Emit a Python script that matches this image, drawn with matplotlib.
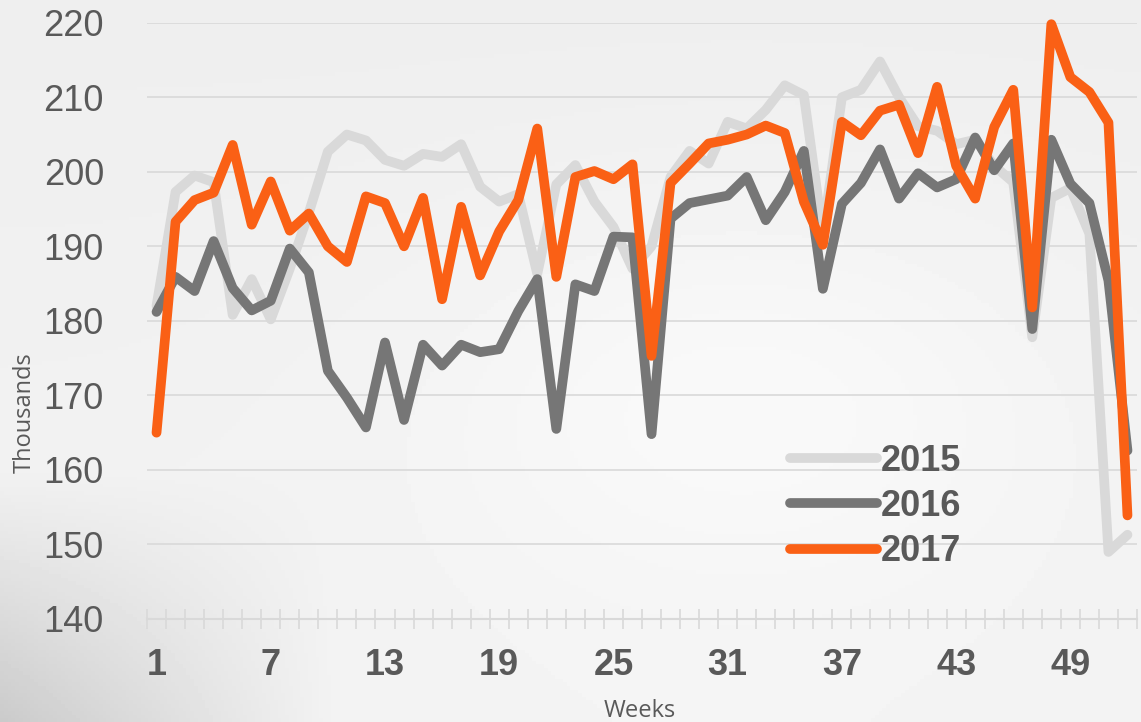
import numpy as np
import matplotlib.pyplot as plt

# weekly volumes, thousands
weeks = list(range(1, 53))
y2015 = [182.0, 197.3, 199.5, 198.6, 180.8, 185.6, 180.2, 187.0, 194.5, 202.7,
         205.0, 204.2, 201.6, 200.8, 202.4, 202.0, 203.7, 198.0, 196.0, 197.0,
         186.3, 198.3, 200.9, 196.0, 192.6, 187.0, 190.0, 199.3, 202.8, 201.1,
         206.7, 205.8, 208.3, 211.6, 210.3, 191.7, 210.0, 211.0, 214.8, 210.0,
         206.1, 205.5, 203.7, 204.3, 200.8, 198.6, 177.8, 196.5, 197.8, 191.7,
         149.0, 151.3]
y2016 = [181.2, 185.9, 184.0, 190.7, 184.4, 181.4, 182.7, 189.7, 186.5, 173.3,
         169.7, 165.7, 177.1, 166.7, 176.8, 174.0, 176.8, 175.8, 176.2, 181.3,
         185.6, 165.5, 184.9, 184.0, 191.3, 191.2, 164.8, 193.7, 195.8, 196.3,
         196.8, 199.3, 193.5, 197.3, 202.8, 184.3, 195.7, 198.5, 203.0, 196.4,
         199.8, 197.9, 199.0, 204.6, 200.2, 203.8, 178.9, 204.3, 198.4, 195.8,
         185.4, 162.6]
y2017 = [165.0, 193.3, 196.2, 197.2, 203.6, 192.9, 198.7, 192.1, 194.4, 190.0,
         187.9, 196.7, 195.8, 190.0, 196.5, 182.9, 195.3, 186.1, 192.0, 196.2,
         205.8, 185.9, 199.3, 200.1, 199.0, 201.0, 175.3, 198.5, 201.1, 203.8,
         204.3, 205.0, 206.2, 205.2, 196.0, 190.2, 206.7, 204.9, 208.2, 209.0,
         202.5, 211.4, 200.8, 196.4, 206.0, 211.0, 181.8, 219.8, 212.7, 210.7,
         206.6, 153.9]
series = [("2015", y2015, "#d9d9d9"), ("2016", y2016, "#767676"), ("2017", y2017, "#fa6015")]
week_labels = [1, 7, 13, 19, 25, 31, 37, 43, 49]
y_ticks = [140, 150, 160, 170, 180, 190, 200, 210, 220]

W, H = 1141, 722
fig = plt.figure(figsize=(W / 100, H / 100), dpi=100)

# faint photo-like background: light grey, a bit darker towards bottom left
bg = fig.add_axes([0, 0, 1, 1], zorder=-1)
u, v = np.meshgrid(np.linspace(0, 1, 300), np.linspace(1, 0, 200))
g = 0.955 - 0.02 * v + 0.03 * np.exp(-((u - 0.65) ** 2 + (v - 0.45) ** 2) / 0.08)
g -= 0.16 * np.clip((0.3 - u) / 0.3, 0, 1) * np.clip((0.35 - v) / 0.35, 0, 1)
bg.imshow(np.clip(g, 0, 1), cmap="gray", vmin=0, vmax=1, aspect="auto", extent=[0, 1, 0, 1])
bg.axis("off")

ax = fig.add_axes([147 / W, 1 - 619 / H, (1137 - 147) / W, (619 - 22.7) / H])
ax.patch.set_alpha(0)

for name, vals, col in series:
    ax.plot(weeks, vals, color=col, lw=7, label=name, solid_joinstyle="round",
            solid_capstyle="round", clip_on=False)

ax.set_xlim(0.5, 52.5)
ax.set_ylim(140, 220)
ax.set_yticks(y_ticks)
ax.set_xticks(week_labels)
ax.set_xticks(np.arange(0.5, 53, 1), minor=True)
ax.grid(axis="y", color="#d9d9d9", lw=1.2)
ax.set_axisbelow(True)
for s in ["top", "right", "left"]:
    ax.spines[s].set_visible(False)
ax.spines["bottom"].set_color("#d9d9d9")
ax.spines["bottom"].set_linewidth(1.5)

ax.tick_params(axis="y", length=0, pad=31, labelsize=26, labelcolor="#595959")
ax.tick_params(axis="x", which="major", length=0, pad=21, labelsize=26, labelcolor="#595959")
ax.tick_params(axis="x", which="minor", length=15, width=1.2, direction="inout", color="#d9d9d9")
for lab in ax.get_yticklabels():
    lab.set_family("Liberation Sans")
for lab in ax.get_xticklabels():
    lab.set_family("Liberation Sans")
    lab.set_fontweight("bold")

fig.text(25 / W, 1 - 413 / H, "Thousands", rotation=90, ha="center", va="center",
         fontsize=17, color="#595959", family="Open Sans")
fig.text(640 / W, 1 - 711 / H, "Weeks", ha="center", va="center",
         fontsize=17, color="#595959", family="Open Sans")

leg = ax.legend(loc="upper left", bbox_to_anchor=(790 / W, 1 - 444 / H),
                bbox_transform=fig.transFigure, frameon=False, borderpad=0,
                borderaxespad=0, handlelength=2.4, handletextpad=0.12,
                labelspacing=0.28, prop=dict(family="Liberation Sans", weight="bold", size=26))
for t in leg.get_texts():
    t.set_color("#595959")

fig.savefig("out.png", dpi=100)
